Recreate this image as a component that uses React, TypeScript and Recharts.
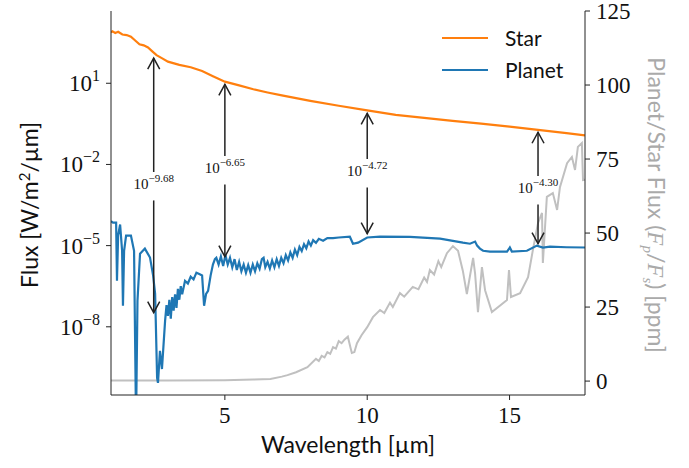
import { Legend, Line, LineChart, ReferenceLine, XAxis, YAxis } from "recharts";

// stellar spectrum, log10 of flux [W/m2/um]
const starWavelength = [1.0, 1.05, 1.15, 1.25, 1.4, 1.55, 1.7, 1.85, 2.0, 2.15, 2.3, 2.45, 2.6, 2.8, 3.0, 3.4, 3.8, 4.2, 4.6, 5.0, 5.5, 6.0, 6.5, 7.0, 8.0, 9.0, 10.0, 11.0, 12.0, 13.0, 14.0, 15.0, 16.0, 17.0, 17.65];
const starLogFlux = [2.88, 2.92, 2.86, 2.9, 2.8, 2.78, 2.72, 2.58, 2.44, 2.4, 2.32, 2.18, 2.04, 1.92, 1.8, 1.68, 1.59, 1.45, 1.25, 1.06, 0.92, 0.78, 0.66, 0.55, 0.35, 0.17, 0.0, -0.17, -0.28, -0.39, -0.49, -0.6, -0.72, -0.84, -0.93];

// planet spectrum, log10 of flux
const planetWavelength = [
  1.0, 1.07, 1.18, 1.21, 1.25, 1.32, 1.39, 1.42, 1.46, 1.53, 1.7, 1.81, 1.88, 1.93, 2.02, 2.19, 2.37, 2.48, 2.55, 2.62,
  2.65, 2.72, 2.79, 2.9, 2.95, 3.0, 3.05, 3.1, 3.15, 3.2, 3.25, 3.3, 3.35, 3.4, 3.45, 3.5, 3.6, 3.7, 3.8, 3.9,
  4.0, 4.1, 4.2, 4.27, 4.34, 4.41, 4.5, 4.58, 4.65, 4.7, 4.78, 4.86, 4.94, 5.02, 5.1, 5.18, 5.26, 5.34, 5.42, 5.5,
  5.58, 5.66, 5.74, 5.82, 5.9, 5.98, 6.06, 6.14, 6.22, 6.3, 6.36, 6.42, 6.5, 6.58, 6.66, 6.74, 6.82, 6.9, 6.98, 7.06,
  7.14, 7.22, 7.3, 7.38, 7.46, 7.54, 7.62, 7.7, 7.78, 7.86, 7.94, 8.02, 8.1, 8.2, 8.3, 8.45, 8.6, 8.8, 9.0, 9.39,
  9.5, 9.68, 10.0, 10.45, 11.5, 12.56, 13.36, 13.61, 13.79, 13.86, 13.96, 14.07, 14.31, 14.91, 15.01, 15.08, 15.61, 15.96, 16.17, 16.42,
  17.0, 17.65,
];
const planetLogFlux = [
  -4.1, -4.15, -4.15, -6.3, -4.63, -4.22, -5.19, -7.22, -5.19, -4.63, -4.63, -5.19, -11.5, -7.04, -5.3, -5.11, -5.44, -6.11, -6.78, -9.89,
  -10.07, -8.89, -9.56, -7.78, -7.2, -7.6, -7.0, -7.7, -6.9, -7.4, -6.8, -7.3, -6.6, -7.0, -6.5, -6.8, -6.3, -6.4, -6.15, -6.25,
  -6.0, -6.05, -6.1, -7.22, -6.78, -6.67, -6.1, -5.7, -5.5, -5.45, -5.7, -5.4, -5.75, -5.35, -5.7, -5.45, -5.8, -5.5, -5.9, -5.6,
  -5.95, -5.7, -6.0, -5.72, -6.0, -5.7, -5.95, -5.65, -5.85, -5.5, -5.45, -5.8, -5.6, -5.85, -5.55, -5.8, -5.5, -5.75, -5.45, -5.65,
  -5.35, -5.55, -5.25, -5.45, -5.15, -5.35, -5.05, -5.2, -4.95, -5.1, -4.85, -5.0, -4.8, -4.9, -4.75, -4.82, -4.72, -4.72, -4.7, -4.67,
  -4.93, -4.89, -4.7, -4.67, -4.68, -4.74, -4.89, -4.93, -4.85, -5.0, -5.11, -5.19, -5.22, -5.22, -5.07, -5.22, -5.19, -5.0, -5.07, -5.04,
  -5.06, -5.07,
];

// planet / star contrast [ppm]
const ratioWavelength = [
  1.0, 3.0, 5.0, 6.0, 6.6, 7.0, 7.2, 7.5, 7.9, 8.2, 8.3, 8.4, 8.5, 8.6, 8.7, 8.8, 8.9, 9.0, 9.1, 9.2,
  9.32, 9.42, 9.46, 9.55, 9.64, 9.8, 10.0, 10.2, 10.45, 10.6, 10.8, 10.9, 11.15, 11.3, 11.6, 11.8, 12.0, 12.1, 12.2, 12.35,
  12.5, 12.6, 12.8, 13.01, 13.19, 13.36, 13.5, 13.6, 13.72, 13.79, 13.89, 14.03, 14.14, 14.38, 14.91, 14.98, 15.05, 15.37, 15.65, 15.82,
  16.0, 16.14, 16.17, 16.31, 16.52, 16.67, 16.77, 17.02, 17.19, 17.3, 17.4, 17.54, 17.58, 17.65,
];
const ratioPpm = [
  0.2, 0.2, 0.3, 0.5, 0.7, 1.5, 2.0, 3.0, 4.7, 7.5, 6.8, 8.5, 8.0, 9.8, 9.2, 11.5, 11.0, 13.5, 12.8, 14.0,
  15.0, 11.0, 9.5, 9.8, 12.8, 15.5, 18.2, 21.6, 24.0, 23.0, 26.5, 25.0, 29.7, 28.5, 31.8, 31.0, 35.0, 33.5, 37.5, 36.0,
  40.5, 38.5, 43.2, 45.6, 44.0, 37.2, 29.4, 35.0, 41.6, 36.2, 23.3, 38.5, 30.7, 23.3, 27.4, 37.5, 28.4, 29.7, 35.1, 44.3,
  53.4, 56.8, 39.9, 62.2, 63.5, 57.8, 65.5, 73.6, 75.7, 71.3, 79.1, 80.4, 67.9, 68.0,
];

// arrow annotations (log10 flux at the arrow tips and at the label)
const annoWavelength = [2.5, 5, 10, 16];
const annoStarTip = [1.93, 0.96, -0.11, -0.81];
const annoPlanetTip = [-7.48, -5.41, -4.56, -4.93];
const annoLabelLog = [-2.7, -2.11, -2.22, -2.85];
const annoExponent = ["−9.68", "−6.65", "−4.72", "−4.30"];

const xTicks = [5, 10, 15];
const leftTicks = [1e1, 1e-2, 1e-5, 1e-8];
const rightTicks = [0, 25, 50, 75, 100, 125];

const starData = starWavelength.map((w, i) => ({ wl: w, flux: Math.pow(10, starLogFlux[i]) }));
const planetData = planetWavelength.map((w, i) => ({ wl: w, flux: Math.pow(10, planetLogFlux[i]) }));
const ratioData = ratioWavelength.map((w, i) => ({ wl: w, ppm: ratioPpm[i] }));

const serif = "'Liberation Serif', serif";
const sans = "Lato, 'DejaVu Sans', sans-serif";
const axisColor = "#222";

const LogTick = (props: any) => {
  const { x, y, payload } = props;
  const e = Math.round(Math.log10(payload.value));
  return (
    <text x={x - 4} y={y + 8} textAnchor="end" fontFamily={serif} fontSize={23} fill="#111">
      10
      <tspan dy={-10} fontSize={16}>{e < 0 ? "−" + -e : String(e)}</tspan>
    </text>
  );
};

const PlainTick = (props: any) => {
  const { x, y, payload, anchor } = props;
  const dx = anchor === "start" ? 4 : 0;
  const dy = anchor === "start" ? 8 : 21;
  return (
    <text x={x + dx} y={y + dy} textAnchor={anchor} fontFamily={serif} fontSize={23} fill="#111">
      {payload.value}
    </text>
  );
};

const arrowShape = (label?: string) => (p: any) => {
  const { x1, y1, x2, y2 } = p;
  const dir = y2 < y1 ? 1 : -1;
  return (
    <g>
      <line x1={x1} y1={y1} x2={x2} y2={y2} stroke={axisColor} strokeWidth={1.5} />
      <polyline
        points={`${x2 - 6},${y2 + dir * 11} ${x2},${y2} ${x2 + 6},${y2 + dir * 11}`}
        fill="none"
        stroke={axisColor}
        strokeWidth={1.5}
      />
      {label && (
        <text x={x1} y={y1 + 17} textAnchor="middle" fontFamily={serif} fontSize={15} fill="#111">
          10
          <tspan dy={-7} fontSize={11}>{label}</tspan>
        </text>
      )}
    </g>
  );
};

const LegendBox = () => (
  <div style={{ fontFamily: sans, fontSize: 21, color: "#111", lineHeight: "32px" }}>
    {[
      { name: "Star", color: "#ff7f0e" },
      { name: "Planet", color: "#1f77b4" },
    ].map((it) => (
      <div key={it.name} style={{ display: "flex", alignItems: "center" }}>
        <span style={{ display: "inline-block", width: 46, height: 2, background: it.color, marginRight: 17 }} />
        {it.name}
      </div>
    ))}
  </div>
);

export default function App() {
  return (
    <div style={{ position: "absolute", left: 0, top: 0, width: 689, height: 468, background: "#fff" }}>
      <LineChart width={689} height={468} margin={{ top: 11, right: 0, bottom: 0, left: 0 }}>
        <XAxis
          dataKey="wl"
          type="number"
          domain={[1.0, 17.65]}
          allowDataOverflow
          ticks={xTicks}
          height={73}
          stroke={axisColor}
          tickSize={5}
          tick={<PlainTick anchor="middle" />}
          label={() => (
            <text x={348} y={453} textAnchor="middle" fontFamily={sans} fontSize={23} fill="#111">
              Wavelength [µm]
            </text>
          )}
        />
        <XAxis xAxisId="top" orientation="top" type="number" domain={[1.0, 17.65]} height={0} tick={false} tickLine={false} stroke={axisColor} />
        <YAxis
          yAxisId="left"
          scale="log"
          domain={[Math.pow(10, -10.52), Math.pow(10, 3.67)]}
          allowDataOverflow
          ticks={leftTicks}
          width={111}
          stroke={axisColor}
          tickSize={5}
          tick={<LogTick />}
          label={() => (
            <text x={38} y={205} transform="rotate(-90 38 205)" textAnchor="middle" fontFamily={sans} fontSize={23} fill="#111">
              Flux [W/m<tspan dy={-8} fontSize={15}>2</tspan><tspan dy={8}>/µm]</tspan>
            </text>
          )}
        />
        <YAxis
          yAxisId="right"
          orientation="right"
          domain={[-4.7, 125]}
          allowDataOverflow
          ticks={rightTicks}
          width={104}
          stroke={axisColor}
          tickSize={5}
          tick={<PlainTick anchor="start" />}
          label={() => (
            <text x={648} y={205} transform="rotate(90 648 205)" textAnchor="middle" fontFamily={sans} fontSize={23} fill="#aaa">
              Planet/Star Flux (<tspan fontFamily={serif} fontStyle="italic">F</tspan>
              <tspan fontFamily={serif} fontStyle="italic" fontSize={15} dy={5}>p</tspan>
              <tspan dy={-5}>/</tspan>
              <tspan fontFamily={serif} fontStyle="italic">F</tspan>
              <tspan fontFamily={serif} fontStyle="italic" fontSize={15} dy={5}>s</tspan>
              <tspan dy={-5}>) [ppm]</tspan>
            </text>
          )}
        />
        <Line
          data={ratioData}
          dataKey="ppm"
          yAxisId="right"
          stroke="#c0c0c0"
          strokeWidth={2}
          dot={false}
          isAnimationActive={false}
          legendType="none"
        />
        <Line
          data={starData}
          dataKey="flux"
          name="Star"
          yAxisId="left"
          stroke="#ff7f0e"
          strokeWidth={2.2}
          dot={false}
          isAnimationActive={false}
        />
        <Line
          data={planetData}
          dataKey="flux"
          name="Planet"
          yAxisId="left"
          stroke="#1f77b4"
          strokeWidth={2.2}
          dot={false}
          isAnimationActive={false}
        />
        {annoWavelength.map((w, i) => (
          <ReferenceLine
            key={"up" + w}
            yAxisId="left"
            segment={[
              { x: w, y: Math.pow(10, annoLabelLog[i] + 0.42) },
              { x: w, y: Math.pow(10, annoStarTip[i]) },
            ]}
            shape={arrowShape(annoExponent[i])}
          />
        ))}
        {annoWavelength.map((w, i) => (
          <ReferenceLine
            key={"down" + w}
            yAxisId="left"
            segment={[
              { x: w, y: Math.pow(10, annoLabelLog[i] - 0.63) },
              { x: w, y: Math.pow(10, annoPlanetTip[i]) },
            ]}
            shape={arrowShape()}
          />
        ))}
        <Legend
          layout="vertical"
          align="center"
          verticalAlign="middle"
          content={<LegendBox />}
          wrapperStyle={{ position: "absolute", left: 442, top: 22, width: 160 }}
        />
      </LineChart>
    </div>
  );
}
